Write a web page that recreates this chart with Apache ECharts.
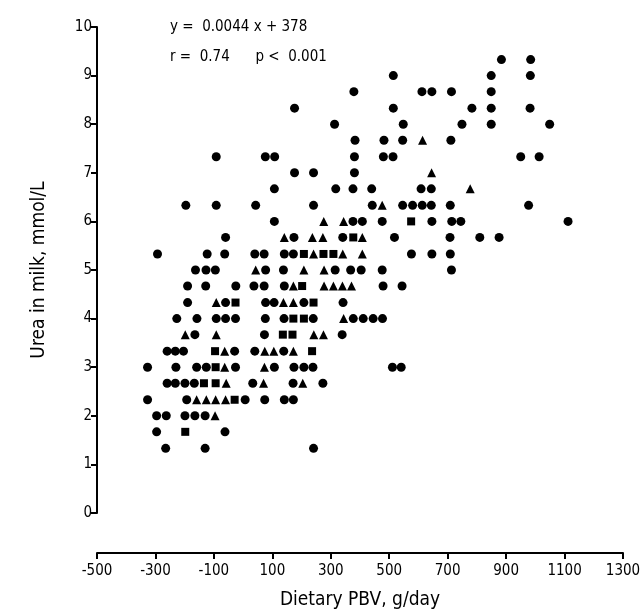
<!DOCTYPE html>
<html>
<head>
<meta charset="utf-8">
<script src="https://cdn.jsdelivr.net/npm/echarts@6/dist/echarts.min.js"></script>
<style>html,body{margin:0;padding:0;background:#fff}#c{width:642px;height:610px}</style>
</head>
<body>
<div id="c"></div>
<script>
// Tick labels
var xTicks = [-500, -300, -100, 100, 300, 500, 700, 900, 1100, 1300];
var yTicks = [0, 1, 2, 3, 4, 5, 6, 7, 8, 9, 10];

// Circles [PBV g/day, urea mmol/L]
var circles = [
  [952,10.33],
  [884,9.33],[984,9.33],
  [514,9.0],[849,9.0],[983,9.0],
  [379,8.67],[612,8.67],[646,8.67],[713,8.67],[849,8.67],
  [176,8.33],[514,8.33],[783,8.33],[849,8.33],[982,8.33],
  [313,8.0],[548,8.0],[749,8.0],[849,8.0],[1049,8.0],
  [383,7.67],[482,7.67],[546,7.67],[711,7.67],
  [-92,7.33],[76,7.33],[108,7.33],[381,7.33],[480,7.33],[513,7.33],[950,7.33],[1013,7.33],
  [176,7.0],[241,7.0],[381,7.0],
  [107,6.67],[317,6.67],[376,6.67],[440,6.67],[609,6.67],[644,6.67],
  [-196,6.33],[-92,6.33],[43,6.33],[241,6.33],[442,6.33],[546,6.33],[580,6.33],[613,6.33],[644,6.33],[709,6.33],[977,6.33],
  [107,6.0],[376,6.0],[408,6.0],[476,6.0],[646,6.0],[714,6.0],[745,6.0],[1112,6.0],
  [-60,5.67],[174,5.67],[341,5.67],[518,5.67],[708,5.67],[810,5.67],[876,5.67],
  [-293,5.33],[-123,5.33],[-63,5.33],[40,5.33],[72,5.33],[141,5.33],[172,5.33],[576,5.33],[646,5.33],[709,5.33],
  [-163,5.0],[-127,5.0],[-95,5.0],[77,5.0],[138,5.0],[315,5.0],[368,5.0],[404,5.0],[476,5.0],[713,5.0],
  [-190,4.67],[-128,4.67],[-25,4.67],[37,4.67],[72,4.67],[141,4.67],[479,4.67],[544,4.67],
  [-190,4.33],[-60,4.33],[77,4.33],[106,4.33],[208,4.33],[342,4.33],
  [-227,4.0],[-158,4.0],[-92,4.0],[-60,4.0],[-26,4.0],[76,4.0],[140,4.0],[240,4.0],[377,4.0],[411,4.0],[445,4.0],[477,4.0],
  [-165,3.67],[73,3.67],[339,3.67],
  [-260,3.33],[-232,3.33],[-204,3.33],[-29,3.33],[40,3.33],[139,3.33],
  [-327,3.0],[-230,3.0],[-159,3.0],[-126,3.0],[-26,3.0],[107,3.0],[174,3.0],[208,3.0],[239,3.0],[511,3.0],[541,3.0],
  [-260,2.67],[-232,2.67],[-199,2.67],[-167,2.67],[33,2.67],[171,2.67],[273,2.67],
  [-327,2.33],[-193,2.33],[7,2.33],[74,2.33],[141,2.33],[172,2.33],
  [-296,2.0],[-263,2.0],[-199,2.0],[-165,2.0],[-130,2.0],
  [-296,1.67],[-62,1.67],
  [-265,1.33],[-130,1.33],[241,1.33]
];

// Triangles
var triangles = [
  [614,7.67],[645,7.0],[777,6.67],[476,6.33],
  [276,6.0],[344,6.0],
  [141,5.67],[237,5.67],[273,5.67],[408,5.67],
  [241,5.33],[341,5.33],[408,5.33],
  [43,5.0],[208,5.0],[277,5.0],
  [172,4.67],[277,4.67],[309,4.67],[340,4.67],[371,4.67],
  [-92,4.33],[138,4.33],[172,4.33],
  [344,4.0],
  [-198,3.67],[-92,3.67],[242,3.67],[275,3.67],
  [-63,3.33],[74,3.33],[105,3.33],[172,3.33],
  [-63,3.0],[73,3.0],
  [-58,2.67],[70,2.67],[204,2.67],
  [-159,2.33],[-126,2.33],[-94,2.33],[-60,2.33],
  [-96,2.0]
];

// Squares
var squares = [
  [575,6.0],[377,5.67],
  [208,5.33],[275,5.33],[309,5.33],
  [202,4.67],
  [-26,4.33],[241,4.33],
  [172,4.0],[208,4.0],
  [136,3.67],[169,3.67],
  [-96,3.33],[236,3.33],
  [-94,3.0],
  [-134,2.67],[-94,2.67],
  [-29,2.33],
  [-198,1.67]
];

var FONT = "'Liberation Sans Narrow','DejaVu Sans Condensed','DejaVu Sans',sans-serif";
var chart = echarts.init(document.getElementById('c'), null, {renderer: 'canvas'});
chart.setOption({
  animation: false,
  backgroundColor: '#fff',
  grid: {left: 97, right: 19, top: 27, bottom: 97, containLabel: false, outerBoundsMode: 'none'},
  xAxis: {
    type: 'value', min: -500, max: 1300,
    offset: 40,
    name: 'Dietary PBV, g/day', nameLocation: 'middle', nameGap: 38,
    nameTextStyle: {color: '#000', fontSize: 19, fontFamily: FONT},
    splitLine: {show: false},
    axisLine: {show: true, onZero: false, lineStyle: {color: '#000', width: 2}},
    axisTick: {show: true, length: 6, lineStyle: {color: '#000', width: 2}, customValues: xTicks},
    axisLabel: {color: '#000', fontSize: 15, fontFamily: FONT, margin: 11, customValues: xTicks,
      formatter: function (v) { return String(v); }}
  },
  yAxis: {
    type: 'value', min: 0, max: 10, interval: 1,
    name: 'Urea in milk, mmol/L', nameLocation: 'middle', nameGap: 48,
    nameTextStyle: {color: '#000', fontSize: 19, fontFamily: FONT},
    splitLine: {show: false},
    axisLine: {show: true, onZero: false, lineStyle: {color: '#000', width: 2}},
    axisTick: {show: true, length: 6, lineStyle: {color: '#000', width: 2}},
    axisLabel: {color: '#000', fontSize: 15, fontFamily: FONT, margin: 5}
  },
  graphic: [
    {type: 'text', left: 170, top: 20, style: {text: 'y =  0.0044 x + 378', fill: '#000', font: '15px ' + FONT}},
    {type: 'text', left: 170, top: 50, style: {text: 'r =  0.74      p <  0.001', fill: '#000', font: '15px ' + FONT}}
  ],
  series: [
    {type: 'scatter', name: 'circles', data: circles, symbol: 'circle', symbolSize: 9, itemStyle: {color: '#000', opacity: 1}},
    {type: 'scatter', name: 'triangles', data: triangles, symbol: 'triangle', symbolSize: 9, itemStyle: {color: '#000', opacity: 1}},
    {type: 'scatter', name: 'squares', data: squares, symbol: 'rect', symbolSize: 8, itemStyle: {color: '#000', opacity: 1}}
  ]
});
</script>
</body>
</html>
